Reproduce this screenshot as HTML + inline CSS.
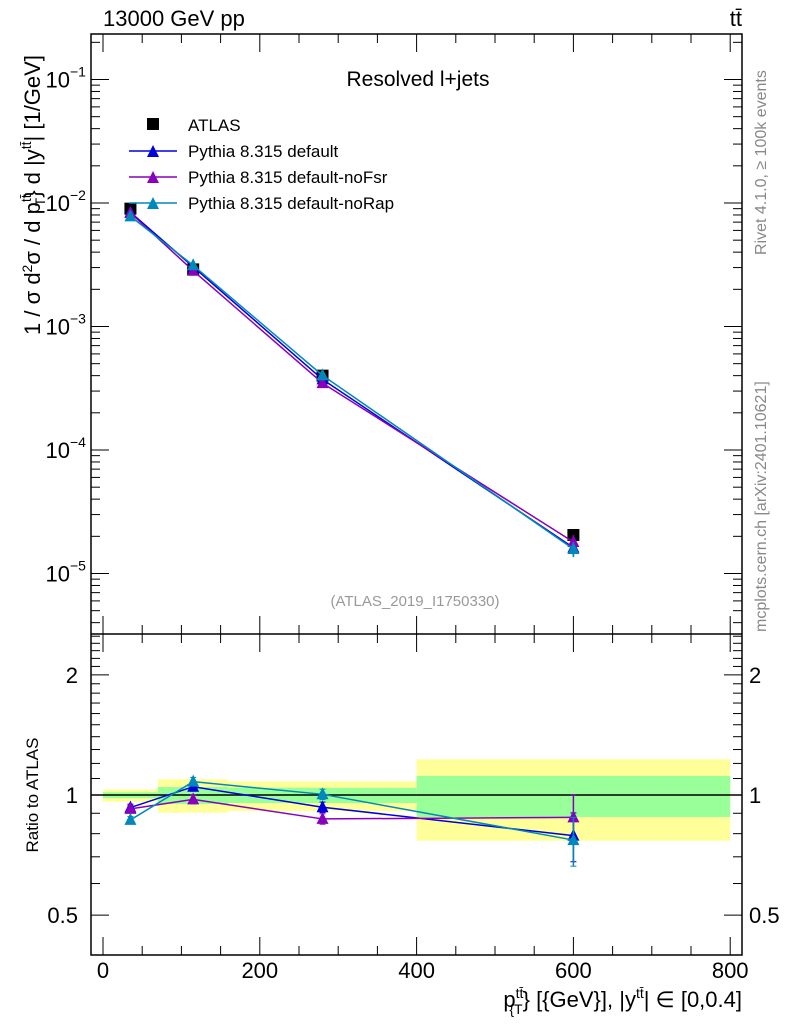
<!DOCTYPE html>
<html><head><meta charset="utf-8"><style>
html,body{margin:0;padding:0;background:#fff;}
svg{display:block;font-family:"Liberation Sans",sans-serif;}
</style></head><body>
<svg id="chart" width="786" height="1024" viewBox="0 0 786 1024" xmlns="http://www.w3.org/2000/svg">
<g id="bands"></g>
<g id="grid"></g>
<g id="marks"></g>
<text x="103" y="26" font-size="22">13000 GeV pp</text>
<text x="742" y="26" font-size="22" text-anchor="end">tt̄</text>
<text x="418" y="86" font-size="21" text-anchor="middle">Resolved l+jets</text>
<text x="415" y="606" font-size="15" fill="#999" text-anchor="middle">(ATLAS_2019_I1750330)</text>
<text transform="translate(766,255) rotate(-90)" font-size="16" fill="#888">Rivet 4.1.0, ≥ 100k events</text>
<text transform="translate(766,632) rotate(-90)" font-size="16" fill="#888">mcplots.cern.ch [arXiv:2401.10621]</text>
<text transform="translate(40,195) rotate(-90)" font-size="22" text-anchor="middle">1 / σ d<tspan font-size="14" dy="-8">2</tspan><tspan dy="8">σ / d p</tspan><tspan font-size="14" dy="-9">tt̄</tspan><tspan font-size="14" dy="14" dx="-12">T</tspan><tspan dy="-5">} d |y</tspan><tspan font-size="14" dy="-9">tt̄</tspan><tspan dy="9">| [1/GeV]</tspan></text>
<text transform="translate(38,795) rotate(-90)" font-size="17" text-anchor="middle">Ratio to ATLAS</text>
<text x="742" y="1007" font-size="22" text-anchor="end">p<tspan font-size="14" dy="-9">tt̄</tspan><tspan font-size="14" dy="16" dx="-14">{T</tspan><tspan dy="-7">} [{GeV}], |y</tspan><tspan font-size="14" dy="-9">tt̄</tspan><tspan dy="9">| ∈ [0,0.4]</tspan></text>
<g>
<rect x="147" y="118" width="12" height="12" fill="#000"/>
<text x="188" y="131" font-size="17">ATLAS</text>
<line x1="129" y1="151" x2="177" y2="151" stroke="#0000dd" stroke-width="1.5"/><path d="M147,157 L159,157 L153,145 Z" fill="#0000dd"/>
<text x="188" y="157" font-size="17">Pythia 8.315 default</text>
<line x1="129" y1="177" x2="177" y2="177" stroke="#8800bb" stroke-width="1.5"/><path d="M147,183 L159,183 L153,171 Z" fill="#8800bb"/>
<text x="188" y="183" font-size="17">Pythia 8.315 default-noFsr</text>
<line x1="129" y1="203" x2="177" y2="203" stroke="#0088bb" stroke-width="1.5"/><path d="M147,209 L159,209 L153,197 Z" fill="#0088bb"/>
<text x="188" y="209" font-size="17">Pythia 8.315 default-noRap</text>
</g>
</svg>
<script>
const xPts=[35,115,280,600];
const dataVals=[9.0e-3,2.9e-3,4.0e-4,2.05e-5];
const defVals=[8.4e-3,3.04e-3,3.73e-4,1.62e-5];
const noFsrVals=[8.3e-3,2.83e-3,3.48e-4,1.80e-5];
const noRapVals=[7.8e-3,3.13e-3,4.02e-4,1.58e-5];
const defRatio=[0.93,1.049,0.932,0.791];
const noFsrRatio=[0.923,0.975,0.871,0.879];
const noRapRatio=[0.866,1.08,1.004,0.771];
const mcErr=[0.02,0.025,0.03,0.14];
const binEdges=[0,70,160,400,800];
const yellowHi=[1.033,1.095,1.082,1.229];
const yellowLo=[0.962,0.903,0.912,0.768];
const greenHi=[1.016,1.047,1.043,1.116];
const greenLo=[0.982,0.949,0.955,0.881];
const xTicks=[0,200,400,600,800];
const NS='http://www.w3.org/2000/svg';
const L=91,R=742,T=34,M=634,B=955;
const X=v=>103+v*0.784;
const Y=v=>203-123.5*(Math.log10(v)+2);
const YR=v=>795-399*Math.log10(v);
function mk(tag,attrs,parent,txt){const e=document.createElementNS(NS,tag);for(const k in attrs)e.setAttribute(k,attrs[k]);if(txt!==undefined)e.textContent=txt;parent.appendChild(e);return e;}
const bands=document.getElementById('bands'),grid=document.getElementById('grid'),marks=document.getElementById('marks');
for(let i=0;i<4;i++){
 const x1=X(binEdges[i]),x2=X(binEdges[i+1]);
 const y=mk('rect',{x:x1,y:YR(yellowHi[i]),width:x2-x1,height:YR(yellowLo[i])-YR(yellowHi[i]),fill:'#ffff99'},bands);
 
 
 const g=mk('rect',{x:x1,y:YR(greenHi[i]),width:x2-x1,height:YR(greenLo[i])-YR(greenHi[i]),fill:'#99ff99'},bands);
 
 
}
mk('rect',{x:L,y:T,width:R-L,height:B-T,fill:'none',stroke:'#000','stroke-width':1.5},grid);
mk('line',{x1:L,y1:M,x2:R,y2:M,stroke:'#000','stroke-width':1.5},grid);
mk('line',{x1:L,y1:YR(1),x2:R,y2:YR(1),stroke:'#000','stroke-width':1.5},grid);
for(let e=-6;e<=0;e++){for(let m=1;m<10;m++){const v=m*Math.pow(10,e);const y=Y(v);if(y<T||y>M)continue;const len=m===1?18:9;
 mk('line',{x1:L,y1:y,x2:L+len,y2:y,stroke:'#000'},grid);mk('line',{x1:R,y1:y,x2:R-len,y2:y,stroke:'#000'},grid);
 if(m===1){const t=mk('text',{x:70,y:y+8,'font-size':22,'text-anchor':'end'},grid,'10');mk('text',{x:70,y:y-3,'font-size':14},grid,'−'+(-e));}}}
const rt=[0.5,0.6,0.7,0.8,0.9,1,1.1,1.2,1.3,1.4,1.5,1.6,1.7,1.8,1.9,2,2.1,2.2,2.3,2.4,2.5];
rt.forEach(v=>{const y=YR(v);if(y<M||y>B)return;const maj=(v===0.5||v===1||v===2);const len=maj?18:9;
 mk('line',{x1:L,y1:y,x2:L+len,y2:y,stroke:'#000'},grid);mk('line',{x1:R,y1:y,x2:R-len,y2:y,stroke:'#000'},grid);
 if(maj){mk('text',{x:78,y:y+8,'font-size':22,'text-anchor':'end'},grid,String(v));mk('text',{x:749,y:y+8,'font-size':22},grid,String(v));}});
for(let v=0;v<=800;v+=50){const x=X(v);const maj=v%200===0;const len=maj?18:9;
 mk('line',{x1:x,y1:B,x2:x,y2:B-len,stroke:'#000'},grid);mk('line',{x1:x,y1:M,x2:x,y2:M-len,stroke:'#000'},grid);mk('line',{x1:x,y1:T,x2:x,y2:T+len,stroke:'#000'},grid);mk('line',{x1:x,y1:M,x2:x,y2:M+len,stroke:'#000'},grid);}
xTicks.forEach(v=>{const t=mk('text',{x:X(v),y:978,'font-size':22,'text-anchor':'middle'},grid,String(v));});
function tri(x,y,c,p){mk('path',{d:`M${x-6},${y+5} L${x+6},${y+5} L${x},${y-7} Z`,fill:c},p);}
function series(vals,ratio,color,name){
 const g=mk('g',{},marks);
 
 
 mk('polyline',{points:xPts.map((x,i)=>X(x)+','+Y(vals[i])).join(' '),fill:'none',stroke:color,'stroke-width':1.5},g);
 mk('polyline',{points:xPts.map((x,i)=>X(x)+','+YR(ratio[i])).join(' '),fill:'none',stroke:color,'stroke-width':1.5},g);
 xPts.forEach((x,i)=>{const px=X(x);
  const e1=YR(ratio[i]*(1+mcErr[i])),e2=YR(ratio[i]*(1-mcErr[i]));
  mk('line',{x1:px,y1:e1,x2:px,y2:e2,stroke:color,'stroke-width':1.5},g);
  mk('line',{x1:px-3,y1:e1,x2:px+3,y2:e1,stroke:color},g);mk('line',{x1:px-3,y1:e2,x2:px+3,y2:e2,stroke:color},g);
  const m1=Y(vals[i]*(1+mcErr[i])),m2=Y(vals[i]*(1-mcErr[i]));
  mk('line',{x1:px,y1:m1,x2:px,y2:m2,stroke:color,'stroke-width':1.5},g);
  tri(px,Y(vals[i]),color,g);tri(px,YR(ratio[i]),color,g);});
}
const dg=mk('g',{},marks);


xPts.forEach((x,i)=>{mk('rect',{x:X(x)-6,y:Y(dataVals[i])-6,width:12,height:12,fill:'#000'},dg);});
series(defVals,defRatio,'#0000dd','series-default');
series(noFsrVals,noFsrRatio,'#8800bb','series-nofsr');
series(noRapVals,noRapRatio,'#0088bb','series-norap');
</script>
</body></html>
